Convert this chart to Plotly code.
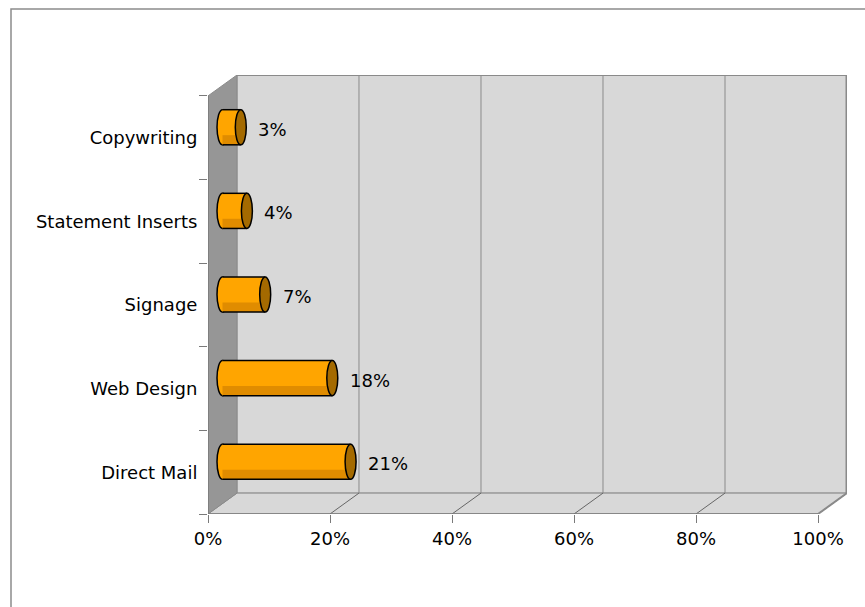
import plotly.graph_objects as go

# Survey shares by service, bottom to top
categories = ["Direct Mail", "Web Design", "Signage", "Statement Inserts", "Copywriting"]
shares = [21, 18, 7, 4, 3]
value_labels = ["21%", "18%", "7%", "4%", "3%"]
tick_values = [0, 20, 40, 60, 80, 100]
tick_labels = ["0%", "20%", "40%", "60%", "80%", "100%"]

# depth of the pseudo-3D box, in axis units
DX, DY = 4.75, 0.25
HALF_H = 0.21      # half thickness of a cylinder (y units)
RX = 0.9           # horizontal radius of the cylinder caps (x units)

WALL = "#d8d8d8"
SIDE = "#969696"
EDGE = "#8a8a8a"
ORANGE = "#ffa500"
ORANGE_DARK = "#e08c00"
CAP = "#a46a00"

n = len(categories)
y_lo, y_hi = -0.5, n - 0.5
X_MAX = tick_values[-1]

shapes = []

# back wall
shapes.append(dict(type="rect", x0=DX, x1=X_MAX + DX, y0=y_lo + DY, y1=y_hi + DY,
                   fillcolor=WALL, line=dict(color=EDGE, width=1), layer="below"))
# floor
shapes.append(dict(type="path",
                   path=f"M 0,{y_lo} L {X_MAX},{y_lo} L {X_MAX + DX},{y_lo + DY} L {DX},{y_lo + DY} Z",
                   fillcolor=WALL, line=dict(color=EDGE, width=1), layer="below"))
# left side wall
shapes.append(dict(type="path",
                   path=f"M 0,{y_lo} L {DX},{y_lo + DY} L {DX},{y_hi + DY} L 0,{y_hi} Z",
                   fillcolor=SIDE, line=dict(color=EDGE, width=1), layer="below"))

# gridlines on back wall and their continuation across the floor
for t in tick_values[1:]:
    shapes.append(dict(type="line", x0=t + DX, x1=t + DX, y0=y_lo + DY, y1=y_hi + DY,
                       line=dict(color=EDGE, width=1), layer="below"))
    shapes.append(dict(type="line", x0=t, x1=t + DX, y0=y_lo, y1=y_lo + DY,
                       line=dict(color="#666666", width=1), layer="below"))

# heavier top and right edges of the back wall
shapes.append(dict(type="line", x0=DX, x1=X_MAX + DX, y0=y_hi + DY, y1=y_hi + DY,
                   line=dict(color=EDGE, width=2), layer="below"))
shapes.append(dict(type="line", x0=X_MAX + DX, x1=X_MAX + DX, y0=y_lo + DY, y1=y_hi + DY,
                   line=dict(color=EDGE, width=3), layer="below"))
shapes.append(dict(type="line", x0=X_MAX, x1=X_MAX + DX, y0=y_lo, y1=y_lo + DY,
                   line=dict(color=EDGE, width=2), layer="below"))

# front axis lines
shapes.append(dict(type="line", x0=0, x1=X_MAX, y0=y_lo, y1=y_lo,
                   line=dict(color="#7a7a7a", width=1.5)))
shapes.append(dict(type="line", x0=0, x1=0, y0=y_lo, y1=y_hi,
                   line=dict(color="#7a7a7a", width=1.5)))

# cylinders, placed halfway into the depth of the box
for i, v in enumerate(shares):
    yc = i + DY / 2
    x0 = DX / 2
    x1 = v + DX / 2
    top, bot = yc + HALF_H, yc - HALF_H
    band = bot + 0.55 * HALF_H
    # rounded left end
    shapes.append(dict(type="circle", x0=x0 - RX, x1=x0 + RX, y0=bot, y1=top,
                       fillcolor=ORANGE, line=dict(color="black", width=1.5)))
    # body
    shapes.append(dict(type="rect", x0=x0, x1=x1, y0=bot, y1=top,
                       fillcolor=ORANGE, line=dict(width=0)))
    shapes.append(dict(type="rect", x0=x0, x1=x1, y0=bot, y1=band,
                       fillcolor=ORANGE_DARK, line=dict(width=0)))
    shapes.append(dict(type="line", x0=x0, x1=x1, y0=top, y1=top,
                       line=dict(color="black", width=1.5)))
    shapes.append(dict(type="line", x0=x0, x1=x1, y0=bot, y1=bot,
                       line=dict(color="black", width=1.5)))
    # right end cap
    shapes.append(dict(type="circle", x0=x1 - RX, x1=x1 + RX, y0=bot, y1=top,
                       fillcolor=CAP, line=dict(color="black", width=1.5)))

# outer frame of the chart area
shapes.append(dict(type="rect", xref="paper", yref="paper",
                   x0=(11 - 208) / 639, x1=(880 - 208) / 639,
                   y0=(514 - 640) / 439, y1=(514 - 9) / 439,
                   line=dict(color="#8c8c8c", width=1.5), fillcolor="rgba(0,0,0,0)"))

annotations = []
for i, (v, lab) in enumerate(zip(shares, value_labels)):
    annotations.append(dict(x=v + DX / 2 + RX, y=i + DY / 2, text=lab, showarrow=False,
                            xanchor="left", yanchor="middle", xshift=10, yshift=-2,
                            font=dict(size=18, color="black")))

fig = go.Figure()
fig.add_trace(go.Scatter(x=[None], y=[None], showlegend=False, hoverinfo="skip"))

fig.update_layout(
    width=865, height=607,
    margin=dict(l=208, r=18, t=75, b=93),
    paper_bgcolor="white", plot_bgcolor="white",
    font=dict(family="DejaVu Sans, Verdana, sans-serif", size=18, color="black"),
    showlegend=False,
    shapes=shapes,
    annotations=annotations,
    xaxis=dict(range=[0, X_MAX + DX], tickvals=tick_values, ticktext=tick_labels,
               ticks="outside", ticklen=8, tickcolor="#7a7a7a", tickwidth=1,
               showgrid=False, zeroline=False, showline=False, fixedrange=True),
    yaxis=dict(range=[y_lo, y_hi + DY], tickvals=list(range(n)), ticktext=categories,
               ticks="outside", ticklen=6, tickcolor="rgba(0,0,0,0)",
               minor=dict(tickvals=[k - 0.5 for k in range(n + 1)], ticks="outside",
                          ticklen=8, tickcolor="#7a7a7a", tickwidth=1, showgrid=False),
               showgrid=False, zeroline=False, showline=False, fixedrange=True),
)

fig.write_html("out.html")
